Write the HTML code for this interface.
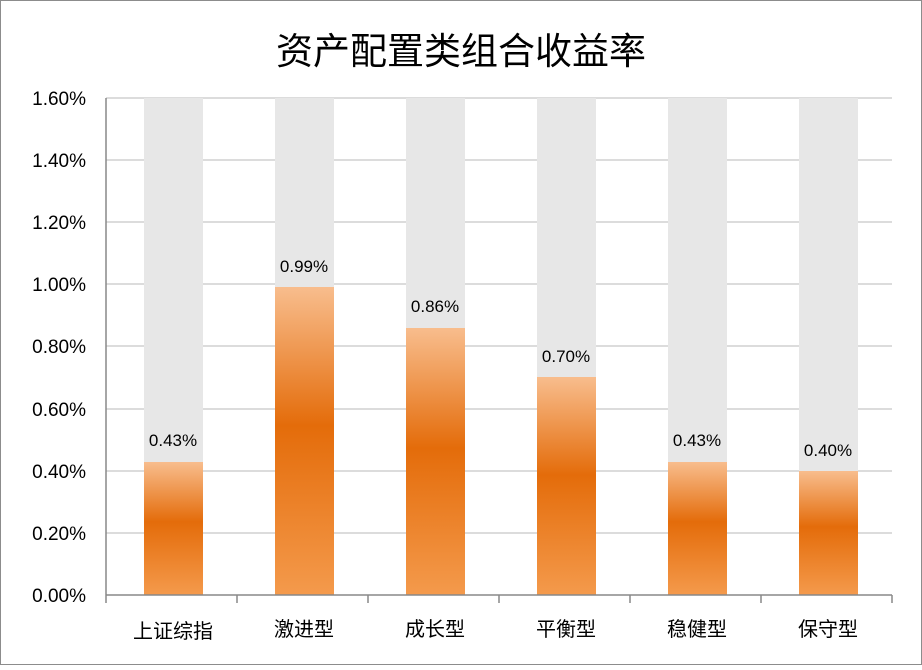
<!DOCTYPE html>
<html><head><meta charset="utf-8"><style>
body{margin:0;background:#fff}
svg text{font-family:"Liberation Sans","Noto Sans CJK SC",sans-serif}
</style></head><body>
<svg width="922" height="665" viewBox="0 0 922 665" xmlns="http://www.w3.org/2000/svg">
<defs><linearGradient id="g" x1="0" y1="0" x2="0" y2="1">
<stop offset="0" stop-color="#f8bd8d"/><stop offset="0.45" stop-color="#e46c0a"/><stop offset="1" stop-color="#f49a4c"/>
</linearGradient></defs>
<rect x="0.5" y="0.5" width="921" height="664" fill="#fff" stroke="#8c8c8c"/>
<text x="461" y="64" font-size="37" text-anchor="middle" fill="#000">资产配置类组合收益率</text>
<g stroke="#d0d0d0" stroke-width="1.5">
<line x1="106" x2="892" y1="98" y2="98"/><line x1="106" x2="892" y1="160" y2="160"/><line x1="106" x2="892" y1="222" y2="222"/><line x1="106" x2="892" y1="284" y2="284"/><line x1="106" x2="892" y1="346" y2="346"/><line x1="106" x2="892" y1="409" y2="409"/><line x1="106" x2="892" y1="471" y2="471"/><line x1="106" x2="892" y1="533" y2="533"/>
</g>
<g fill="#e7e7e7">
<rect x="144" y="98" width="59" height="497"/><rect x="275" y="98" width="59" height="497"/><rect x="406" y="98" width="59" height="497"/><rect x="537" y="98" width="59" height="497"/><rect x="668" y="98" width="59" height="497"/><rect x="799" y="98" width="59" height="497"/>
</g>
<g fill="url(#g)">
<rect x="144" y="462" width="59" height="133"/><rect x="275" y="287" width="59" height="308"/><rect x="406" y="328" width="59" height="267"/><rect x="537" y="377" width="59" height="218"/><rect x="668" y="462" width="59" height="133"/><rect x="799" y="471" width="59" height="124"/>
</g>
<g stroke="#888" stroke-width="1.5">
<line x1="106" x2="106" y1="98" y2="595"/><line x1="106" x2="892" y1="595" y2="595"/>
<line x1="106" x2="106" y1="595" y2="603"/><line x1="237" x2="237" y1="595" y2="603"/><line x1="368" x2="368" y1="595" y2="603"/><line x1="499" x2="499" y1="595" y2="603"/><line x1="630" x2="630" y1="595" y2="603"/><line x1="761" x2="761" y1="595" y2="603"/><line x1="892" x2="892" y1="595" y2="603"/>
</g>
<g font-size="19" text-anchor="end" fill="#000">
<text x="86" y="105">1.60%</text><text x="86" y="167">1.40%</text><text x="86" y="229">1.20%</text><text x="86" y="291">1.00%</text><text x="86" y="353">0.80%</text><text x="86" y="416">0.60%</text><text x="86" y="478">0.40%</text><text x="86" y="540">0.20%</text><text x="86" y="602">0.00%</text>
</g>
<g font-size="17" text-anchor="middle" fill="#000">
<text x="173" y="446">0.43%</text><text x="304" y="272">0.99%</text><text x="435" y="312">0.86%</text><text x="566" y="362">0.70%</text><text x="697" y="446">0.43%</text><text x="828" y="456">0.40%</text>
</g>
<g font-size="20" text-anchor="middle" fill="#000">
<text x="173" y="638">上证综指</text><text x="304" y="636">激进型</text><text x="435" y="636">成长型</text><text x="566" y="636">平衡型</text><text x="697" y="636">稳健型</text><text x="828" y="636">保守型</text>
</g>
</svg>
</body></html>
